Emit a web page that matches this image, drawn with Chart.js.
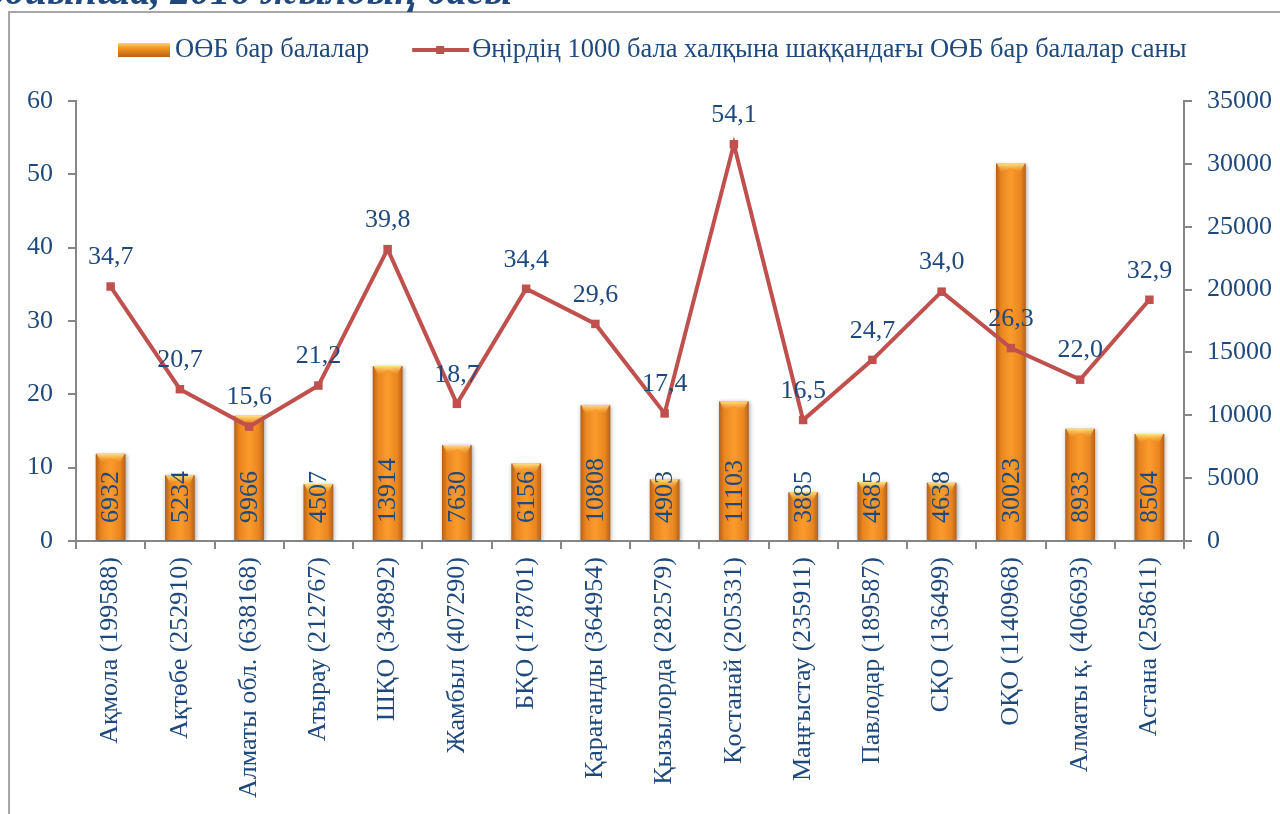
<!DOCTYPE html>
<html>
<head>
<meta charset="utf-8">
<title>ОӨБ бар балалар</title>
<script src="https://cdn.jsdelivr.net/npm/chart.js@4.4.0/dist/chart.umd.min.js"></script>
<style>
  html, body { margin: 0; padding: 0; background: #fff; }
  #wrap { position: relative; width: 1280px; height: 814px; }
</style>
</head>
<body>
<div id="wrap"><canvas id="chart" width="1280" height="814"></canvas></div>
<script>
// regions with child population in brackets
const categories = [
  "Ақмола (199588)", "Ақтөбе (252910)", "Алматы обл. (638168)", "Атырау (212767)",
  "ШҚО (349892)", "Жамбыл (407290)", "БҚО (178701)", "Қарағанды (364954)",
  "Қызылорда (282579)", "Қостанай (205331)", "Маңғыстау (235911)", "Павлодар (189587)",
  "СҚО (136499)", "ОҚО (1140968)", "Алматы қ. (406693)", "Астана (258611)"
];
const childCounts = [6932, 5234, 9966, 4507, 13914, 7630, 6156, 10808, 4903, 11103, 3885, 4685, 4638, 30023, 8933, 8504];
const ratePer1000 = [34.7, 20.7, 15.6, 21.2, 39.8, 18.7, 34.4, 29.6, 17.4, 54.1, 16.5, 24.7, 34.0, 26.3, 22.0, 32.9];
const leftTicks = [0, 10, 20, 30, 40, 50, 60];
const rightTicks = [0, 5000, 10000, 15000, 20000, 25000, 30000, 35000];

const barLabel = "ОӨБ бар балалар";
const lineLabel = "Өңірдің 1000 бала халқына шаққандағы ОӨБ бар балалар саны";
const titleTail = "бойынша, 2016 жылдың басы";

const FONT = "'Liberation Serif', 'Times New Roman', serif";
const TEXT = "#1F497D";
const AXIS = "#868686";
const RED = "#C0504D";
const BAR_PCT = 0.43;

function barGradient(ctx, x0, x1) {
  const g = ctx.createLinearGradient(x0, 0, x1, 0);
  g.addColorStop(0, "#B5601B");
  g.addColorStop(0.18, "#E9861F");
  g.addColorStop(0.5, "#FB9B2C");
  g.addColorStop(0.82, "#E9861F");
  g.addColorStop(1, "#B5601B");
  return g;
}

// frame, cut title, legend, value labels and bar bevels
const decor = {
  id: "decor",
  beforeDraw(chart) {
    const c = chart.ctx;
    c.save();
    c.strokeStyle = "#A6A6A6";
    c.lineWidth = 2;
    c.beginPath();
    c.moveTo(9, chart.height + 2);
    c.lineTo(9, 12);
    c.lineTo(chart.width + 2, 12);
    c.stroke();

    c.fillStyle = TEXT;
    c.font = "bold italic 40px " + FONT;
    c.textAlign = "right";
    c.textBaseline = "alphabetic";
    c.fillText(titleTail, 512, 4);

    // legend
    const ly = 50;
    let x = 118;
    const lg = c.createLinearGradient(0, ly - 7, 0, ly + 7);
    lg.addColorStop(0, "#FDD46C");
    lg.addColorStop(0.35, "#F7961F");
    lg.addColorStop(1, "#B8621A");
    c.fillStyle = lg;
    c.fillRect(x, ly - 7, 52, 14);
    c.font = "26.5px " + FONT;
    c.textAlign = "left";
    c.textBaseline = "middle";
    c.fillStyle = TEXT;
    c.fillText(barLabel, x + 57, ly);
    x = x + 57 + c.measureText(barLabel).width + 43;
    c.strokeStyle = RED;
    c.lineWidth = 4;
    c.beginPath();
    c.moveTo(x, ly);
    c.lineTo(x + 57, ly);
    c.stroke();
    c.fillStyle = RED;
    c.fillRect(x + 28 - 4, ly - 4, 8, 8);
    c.fillStyle = TEXT;
    c.fillText(lineLabel, x + 60, ly);
    c.restore();
  },
  beforeDatasetDraw(chart, args) {
    if (chart.data.datasets[args.index].type === "bar") {
      const c = chart.ctx;
      c.save();
      c.shadowColor = "rgba(0,0,0,0.35)";
      c.shadowBlur = 4;
      c.shadowOffsetX = 1;
      c.shadowOffsetY = 1;
    }
  },
  afterDatasetDraw(chart, args) {
    const ds = chart.data.datasets[args.index];
    const c = chart.ctx;
    if (ds.type !== "bar") return;
    c.restore();
    const meta = chart.getDatasetMeta(args.index);
    c.save();
    meta.data.forEach((bar) => {
      const w = bar.width, l = bar.x - w / 2, r = bar.x + w / 2, t = bar.y;
      const cap = c.createLinearGradient(0, t, 0, t + 9);
      cap.addColorStop(0, "#FFE18A");
      cap.addColorStop(1, "rgba(250,170,50,0)");
      c.fillStyle = cap;
      c.beginPath();
      c.moveTo(l + 1, t);
      c.lineTo(r - 1, t);
      c.lineTo(r - 5, t + 9);
      c.lineTo(bar.x, t + 4);
      c.lineTo(l + 5, t + 9);
      c.closePath();
      c.fill();
    });
    c.restore();
  },
  afterDatasetsDraw(chart) {
    const c = chart.ctx;
    c.save();
    c.fillStyle = TEXT;
    c.font = "26px " + FONT;
    chart.data.datasets.forEach((ds, i) => {
      const meta = chart.getDatasetMeta(i);
      meta.data.forEach((el, j) => {
        const v = ds.data[j];
        if (ds.type === "bar") {
          c.save();
          c.translate(el.x, el.base - 17);
          c.rotate(-Math.PI / 2);
          c.textAlign = "left";
          c.textBaseline = "middle";
          c.fillText(String(v), 0, 1);
          c.restore();
        } else {
          c.textAlign = "center";
          c.textBaseline = "middle";
          c.fillText(v.toFixed(1).replace(".", ","), el.x, el.y - 29);
        }
      });
    });
    c.restore();
  }
};

const tickFont = { family: FONT, size: 26 };

new Chart(document.getElementById("chart"), {
  data: {
    labels: categories,
    datasets: [
      {
        type: "line",
        label: lineLabel,
        data: ratePer1000,
        yAxisID: "y",
        borderColor: RED,
        backgroundColor: RED,
        borderWidth: 4,
        pointStyle: "rect",
        pointRadius: 6,
        pointBackgroundColor: RED,
        pointBorderWidth: 0,
        tension: 0,
        order: 0
      },
      {
        type: "bar",
        label: barLabel,
        data: childCounts,
        yAxisID: "y1",
        backgroundColor: (ctx) => {
          const x = ctx.chart.scales.x;
          if (!x || ctx.dataIndex === undefined) return "#F7961F";
          const cx = x.getPixelForValue(ctx.dataIndex);
          const half = (x.right - x.left) / categories.length * BAR_PCT / 2;
          if (!isFinite(cx) || !isFinite(half) || half <= 0) return "#F7961F";
          return barGradient(ctx.chart.ctx, cx - half, cx + half);
        },
        borderWidth: 0,
        categoryPercentage: 1,
        barPercentage: BAR_PCT,
        order: 1
      }
    ]
  },
  options: {
    responsive: false,
    animation: false,
    layout: { padding: { top: 101, left: 0, right: 0, bottom: 0 } },
    plugins: {
      legend: { display: false },
      tooltip: { enabled: false }
    },
    scales: {
      x: {
        type: "category",
        offset: true,
        grid: { display: true, offset: true, drawOnChartArea: false, drawTicks: true, tickLength: 8, color: AXIS, lineWidth: 2 },
        border: { display: true, color: AXIS, width: 2 },
        ticks: { minRotation: 90, maxRotation: 90, autoSkip: false, padding: 8, color: TEXT, font: tickFont },
        afterFit: (s) => { s.height = 273; }
      },
      y: {
        position: "left",
        min: leftTicks[0],
        max: leftTicks[leftTicks.length - 1],
        afterBuildTicks: (s) => { s.ticks = leftTicks.map(v => ({ value: v })); },
        grid: { drawOnChartArea: false, drawTicks: true, tickLength: 8, color: AXIS, lineWidth: 2 },
        border: { display: true, color: AXIS, width: 2 },
        ticks: { padding: 15, color: TEXT, font: tickFont },
        afterFit: (s) => { s.width = 76; }
      },
      y1: {
        position: "right",
        min: rightTicks[0],
        max: rightTicks[rightTicks.length - 1],
        afterBuildTicks: (s) => { s.ticks = rightTicks.map(v => ({ value: v })); },
        grid: { drawOnChartArea: false, drawTicks: true, tickLength: 8, color: AXIS, lineWidth: 2 },
        border: { display: true, color: AXIS, width: 2 },
        ticks: { padding: 15, color: TEXT, font: tickFont, callback: (v) => String(v) },
        afterFit: (s) => { s.width = 96; }
      }
    }
  },
  plugins: [decor]
});
</script>
</body>
</html>
